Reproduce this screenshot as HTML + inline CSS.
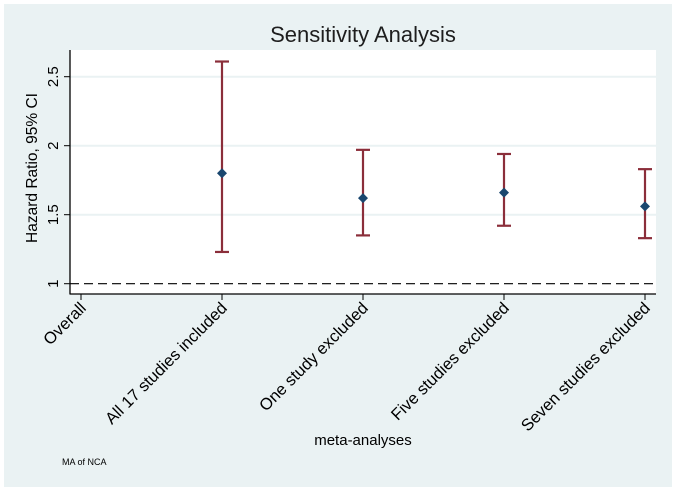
<!DOCTYPE html>
<html><head><meta charset="utf-8"><style>
body{margin:0;background:#fff}
svg{display:block;font-family:"Liberation Sans",sans-serif}
</style></head><body>
<svg width="676" height="491" viewBox="0 0 676 491">
<rect x="0" y="0" width="676" height="491" fill="#fff"/>
<rect x="4" y="4" width="668" height="483" fill="#eaf2f3"/>
<rect x="70" y="50" width="586" height="244" fill="#fff"/>
<text x="363" y="42" font-size="22" text-anchor="middle" fill="#1e1e1e">Sensitivity Analysis</text>
<g id="grid"></g><g id="yaxis"></g><g id="xaxis"></g><g id="marks"></g>
<text transform="translate(37,168) rotate(-90)" font-size="15.5" text-anchor="middle" fill="#000">Hazard Ratio, 95% CI</text>
<text x="363" y="445" font-size="15" text-anchor="middle" fill="#000">meta-analyses</text>
<text x="62" y="465" font-size="9" fill="#000">MA of NCA</text>
</svg>
<script>
const categories=["Overall","All 17 studies included","One study excluded","Five studies excluded","Seven studies excluded"];
const estimates=[null,1.80,1.62,1.66,1.56];
const lower=[null,1.23,1.35,1.42,1.33];
const upper=[null,2.61,1.97,1.94,1.83];
const yTicks=[1,1.5,2,2.5];
const yTickLabels=["1","1.5","2","2.5"];
const NS="http://www.w3.org/2000/svg";
function y(v){return 283.7-(v-1)*138;}
function x(i){return 81+i*141;}
function mk(p,tag,at){const e=document.createElementNS(NS,tag);for(const k in at)e.setAttribute(k,at[k]);document.getElementById(p).appendChild(e);return e;}
yTicks.forEach((t,i)=>{
  if(t!==1){const g=mk('grid','line',{x1:70,x2:656,y1:y(t),y2:y(t),stroke:'#eaf2f3','stroke-width':2});
  
  }
  const tk=mk('yaxis','line',{x1:64,x2:70,y1:y(t),y2:y(t),stroke:'#000'});
  
  
  const tl=mk('yaxis','text',{transform:`translate(58,${y(t)}) rotate(-90)`,'font-size':15,'text-anchor':'middle',fill:'#000'});
  
  
  tl.textContent=yTickLabels[i];
});
const ref=mk('grid','line',{x1:70,x2:656,y1:y(1),y2:y(1),stroke:'#000','stroke-dasharray':'9,5','stroke-width':1.2});


const ya=mk('yaxis','line',{x1:70,x2:70,y1:50,y2:294.5,stroke:'#000','stroke-width':1.3});


const xa=mk('xaxis','line',{x1:70,x2:656,y1:294,y2:294,stroke:'#000','stroke-width':1.3});


categories.forEach((c,i)=>{
  const tk=mk('xaxis','line',{x1:x(i),x2:x(i),y1:294,y2:300,stroke:'#000'});
  
  
  const tl=mk('xaxis','text',{transform:`translate(${x(i)+6},${309}) rotate(-45)`,'font-size':16.5,'text-anchor':'end',fill:'#000'});
  
  
  tl.textContent=c;
  if(estimates[i]==null)return;
  const bar=mk('marks','line',{x1:x(i),x2:x(i),y1:y(lower[i]),y2:y(upper[i]),stroke:'#8b2e3a','stroke-width':2.2});
  
  
  [lower[i],upper[i]].forEach(v=>{
    const cap=mk('marks','line',{x1:x(i)-7,x2:x(i)+7,y1:y(v),y2:y(v),stroke:'#8b2e3a','stroke-width':2.2});
    
    
  });
  const cx=x(i),cy=y(estimates[i]);
  const d=mk('marks','polygon',{points:`${cx},${cy-5} ${cx+5},${cy} ${cx},${cy+5} ${cx-5},${cy}`,fill:'#1a476f'});
  
  
});
</script>
</body></html>
